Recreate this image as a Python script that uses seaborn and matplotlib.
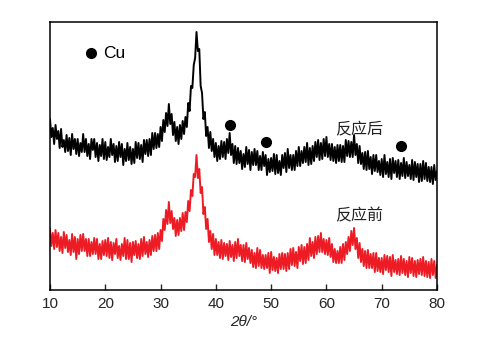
import numpy as np
import pandas as pd
import matplotlib
matplotlib.use("Agg")
import matplotlib.pyplot as plt
import seaborn as sns

# XRD scan grid: 10-80 deg 2theta, 0.25 deg step
scan_start, scan_end, scan_step = 10.0, 80.0, 0.25
two_theta = np.round(np.arange(scan_start, scan_end + scan_step / 2, scan_step), 2)

# Intensity (a.u., stacked) after reaction, one row per degree
after_reaction = [
    171, 153, 162, 146,   # 10
    165, 151, 159, 142,   # 11
    161, 143, 150, 138,   # 12
    155, 139, 152, 135,   # 13
    156, 141, 151, 136,   # 14
    151, 134, 147, 138,   # 15
    156, 138, 151, 134,   # 16
    146, 131, 151, 140,   # 17
    151, 133, 147, 129,   # 18
    145, 134, 151, 131,   # 19
    148, 130, 143, 133,   # 20
    151, 135, 146, 128,   # 21
    144, 129, 148, 133,   # 22
    146, 125, 141, 129,   # 23
    147, 130, 143, 126,   # 24
    141, 127, 148, 132,   # 25
    147, 131, 145, 128,   # 26
    150, 136, 150, 134,   # 27
    151, 135, 157, 141,   # 28
    157, 142, 156, 143,   # 29
    163, 149, 170, 158,   # 30
    177, 164, 186, 166,   # 31
    176, 155, 168, 149,   # 32
    163, 146, 165, 151,   # 33
    169, 156, 173, 163,   # 34
    187, 179, 204, 202,   # 35
    225, 232, 258, 239,   # 36
    241, 204, 197, 171,   # 37
    178, 154, 163, 142,   # 38
    158, 139, 151, 133,   # 39
    147, 129, 144, 131,   # 40
    149, 133, 148, 131,   # 41
    151, 137, 157, 135,   # 42
    146, 127, 144, 126,   # 43
    142, 127, 139, 121,   # 44
    136, 123, 143, 126,   # 45
    140, 120, 138, 125,   # 46
    141, 125, 139, 120,   # 47
    134, 120, 138, 124,   # 48
    135, 115, 131, 118,   # 49
    132, 119, 136, 116,   # 50
    135, 117, 129, 115,   # 51
    135, 122, 137, 118,   # 52
    141, 122, 135, 120,   # 53
    135, 120, 139, 124,   # 54
    143, 124, 139, 127,   # 55
    143, 128, 147, 125,   # 56
    142, 126, 144, 129,   # 57
    148, 133, 150, 130,   # 58
    147, 131, 151, 134,   # 59
    153, 133, 146, 130,   # 60
    146, 129, 143, 127,   # 61
    145, 129, 145, 128,   # 62
    144, 128, 150, 134,   # 63
    149, 133, 148, 133,   # 64
    155, 135, 146, 127,   # 65
    144, 126, 137, 121,   # 66
    138, 120, 139, 121,   # 67
    133, 116, 135, 119,   # 68
    135, 118, 129, 115,   # 69
    131, 113, 135, 116,   # 70
    128, 113, 131, 111,   # 71
    132, 117, 129, 113,   # 72
    130, 111, 127, 114,   # 73
    132, 112, 128, 114,   # 74
    125, 111, 130, 110,   # 75
    128, 113, 126, 108,   # 76
    126, 109, 129, 111,   # 77
    127, 109, 123, 108,   # 78
    123, 106, 125, 110,   # 79
    119,                  # 80
]

# Intensity (a.u.) before reaction
before_reaction = [
    61, 44, 57, 41,   # 10
    60, 43, 57, 39,   # 11
    53, 37, 58, 42,   # 12
    55, 38, 50, 35,   # 13
    56, 38, 53, 31,   # 14
    51, 36, 55, 39,   # 15
    56, 39, 51, 34,   # 16
    51, 34, 48, 36,   # 17
    52, 36, 51, 31,   # 18
    46, 31, 49, 35,   # 19
    50, 34, 52, 32,   # 20
    48, 30, 47, 36,   # 21
    51, 32, 44, 30,   # 22
    46, 34, 52, 31,   # 23
    50, 31, 47, 28,   # 24
    48, 35, 49, 32,   # 25
    46, 31, 51, 34,   # 26
    53, 36, 48, 33,   # 27
    50, 35, 54, 39,   # 28
    55, 39, 57, 41,   # 29
    60, 49, 71, 60,   # 30
    80, 66, 88, 67,   # 31
    79, 61, 72, 54,   # 32
    70, 55, 72, 59,   # 33
    77, 60, 78, 68,   # 34
    89, 79, 100, 94,  # 35
    116, 113, 135, 112,   # 36
    121, 97, 103, 76,     # 37
    83, 61, 71, 48,   # 38
    59, 41, 56, 35,   # 39
    51, 35, 48, 32,   # 40
    50, 31, 47, 34,   # 41
    46, 30, 49, 33,   # 42
    45, 29, 48, 32,   # 43
    51, 34, 45, 29,   # 44
    45, 28, 47, 31,   # 45
    42, 27, 40, 23,   # 46
    37, 22, 42, 24,   # 47
    40, 22, 35, 21,   # 48
    35, 22, 37, 17,   # 49
    38, 20, 33, 19,   # 50
    32, 17, 36, 21,   # 51
    37, 21, 36, 19,   # 52
    37, 21, 41, 25,   # 53
    42, 24, 38, 22,   # 54
    43, 29, 45, 26,   # 55
    43, 27, 46, 30,   # 56
    52, 34, 48, 32,   # 57
    53, 36, 54, 38,   # 58
    57, 38, 51, 36,   # 59
    50, 35, 52, 33,   # 60
    46, 28, 41, 27,   # 61
    39, 27, 43, 27,   # 62
    46, 30, 48, 36,   # 63
    53, 39, 59, 45,   # 64
    62, 41, 52, 32,   # 65
    47, 28, 41, 24,   # 66
    39, 22, 40, 22,   # 67
    36, 22, 37, 18,   # 68
    37, 19, 32, 18,   # 69
    32, 16, 35, 20,   # 70
    34, 18, 33, 14,   # 71
    35, 18, 30, 16,   # 72
    31, 15, 34, 17,   # 73
    31, 15, 29, 13,   # 74
    33, 17, 32, 14,   # 75
    29, 13, 30, 16,   # 76
    31, 15, 33, 14,   # 77
    29, 13, 28, 12,   # 78
    31, 15, 29, 12,   # 79
    25,               # 80
]

# Cu reflections marked on the post-reaction pattern
cu_peak_pos = [42.5, 49.0, 73.5]
cu_marker_y = [165, 148, 144]

series_labels = ["反应后", "反应前"]
series_colors = ["#000000", "#ED1C24"]
label_pos = [(66.0, 160), (66.0, 74)]

xticks = [10, 20, 30, 40, 50, 60, 70, 80]

df = pd.DataFrame({
    "two_theta": np.concatenate([two_theta, two_theta]),
    "intensity": np.array(after_reaction + before_reaction, dtype=float),
    "sample": [series_labels[0]] * len(two_theta) + [series_labels[1]] * len(two_theta),
})

sns.set_style("ticks")
plt.rcParams["font.family"] = ["Liberation Sans", "Noto Sans CJK SC", "DejaVu Sans"]

fig = plt.figure(figsize=(4.79, 3.44), dpi=100)
ax = fig.add_axes([50 / 479, 1 - 290 / 344, 387 / 479, 268 / 344])

sns.lineplot(data=df, x="two_theta", y="intensity", hue="sample",
             palette=dict(zip(series_labels, series_colors)),
             hue_order=series_labels, linewidth=1.4, legend=False, ax=ax,
             estimator=None, sort=False)

ax.plot(cu_peak_pos, cu_marker_y, "o", color="black", markersize=7, linestyle="none")
ax.plot([17.4], [237], "o", color="black", markersize=7)
ax.text(19.6, 237, "Cu", fontsize=12.5, va="center", ha="left", color="black")

for lab, (lx, ly) in zip(series_labels, label_pos):
    ax.text(lx, ly, lab, fontsize=11.5, ha="center", va="center",
            family=["Noto Sans CJK SC", "DejaVu Sans"], color="#222222")

ax.set_xlim(10, 80)
ax.set_ylim(0, 268)
ax.set_xticks(xticks)
ax.set_xticklabels([str(t) for t in xticks], fontsize=11)
ax.set_yticks([])
ax.tick_params(axis="x", direction="in", length=4, width=1, pad=5)
for sp in ax.spines.values():
    sp.set_visible(True)
    sp.set_linewidth(1.1)
    sp.set_color("black")
ax.set_xlabel("2θ/°", fontsize=11, style="italic", labelpad=3)
ax.set_ylabel("")

fig.savefig("out.png", dpi=100)
